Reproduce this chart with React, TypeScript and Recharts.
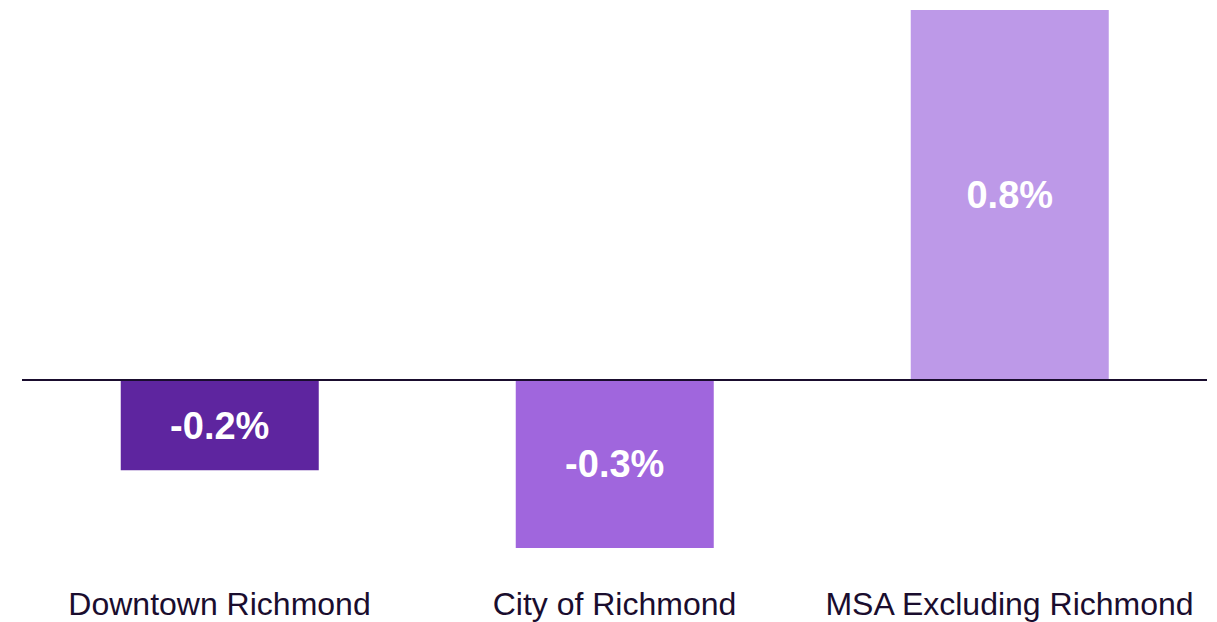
import React from "react";
import { BarChart, Bar, XAxis, YAxis, ReferenceLine, Cell, LabelList } from "recharts";

const categories = ["Downtown Richmond", "City of Richmond", "MSA Excluding Richmond"];
const values = [-0.195, -0.363, 0.8];
const valueLabels = ["-0.2%", "-0.3%", "0.8%"];
const colors = ["#5E259F", "#A066DD", "#BD99E8"];

const data = categories.map((name, i) => ({ name, value: values[i], label: valueLabels[i] }));

const FONT = "'Liberation Sans', Arial, sans-serif";

export default function App() {
  return (
    <div style={{ position: "absolute", left: 0, top: 0, width: 1217, height: 622, background: "#fff" }}>
      <BarChart
        width={1217}
        height={622}
        data={data}
        margin={{ top: 10, right: 10, left: 22, bottom: 0 }}
        barCategoryGap="25%"
      >
        <XAxis
          dataKey="name"
          height={57}
          tickLine={false}
          axisLine={false}
          tickMargin={21}
          interval={0}
          tick={{ fontSize: 32, fill: "#1A0D2E", fontFamily: FONT }}
        />
        <YAxis hide domain={[-0.4, 0.8]} />
        <Bar dataKey="value" isAnimationActive={false}>
          {data.map((d, i) => (
            <Cell key={d.name} fill={colors[i]} />
          ))}
          <LabelList
            dataKey="label"
            position="center"
            fill="#FFFFFF"
            style={{ fontSize: 38, fontWeight: 700, fontFamily: FONT }}
          />
        </Bar>
        <ReferenceLine y={0} stroke="#1A0D2E" strokeWidth={2} />
      </BarChart>
    </div>
  );
}
